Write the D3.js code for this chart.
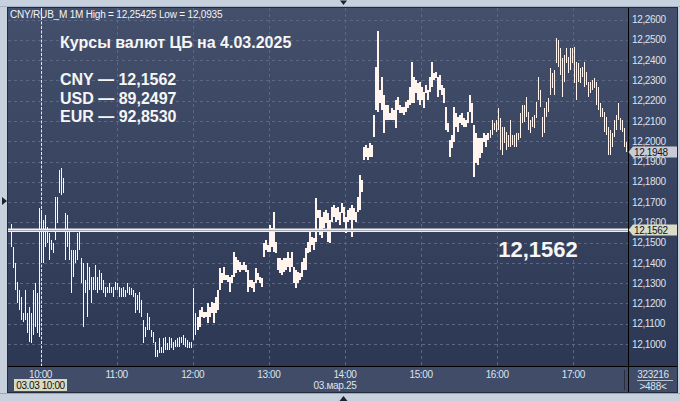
<!DOCTYPE html>
<html><head><meta charset="utf-8">
<script src="https://cdn.jsdelivr.net/npm/d3@7"></script>
<style>html,body{margin:0;padding:0;background:#c7d1de;} svg{display:block}</style>
</head><body>
<svg id="c" width="680" height="401"></svg>
<script>
// ---------- data ----------
const headerText = "CNY/RUB_M 1M High = 12,25425 Low = 12,0935";
const titleLines = ["Курсы валют ЦБ на 4.03.2025", "", "CNY — 12,1562", "USD — 89,2497", "EUR — 92,8530"];
const cbRate = 12.1562;
const lastPrice = 12.1948;
const firstBarTime = "09:37";
const lastBarTime = "17:42";
const hourTicks = ["10:00","11:00","12:00","13:00","14:00","15:00","16:00","17:00"];
const priceTicks = [12.10,12.11,12.12,12.13,12.14,12.15,12.16,12.17,12.18,12.19,12.20,12.21,12.22,12.23,12.24,12.25,12.26];
const dateLabel = "03.мар.25";
const cursorLabel = "03.03 10:00";
const infoTop = "323216";
const infoBottom = ">488<";

const high = [
12.1591,12.1478,12.1399,12.1306,12.1266,12.1232,12.1153,12.1266,12.1153,12.1182,
12.1153,12.1266,12.1301,12.1251,12.1670,12.1661,12.1611,12.1636,12.1577,12.1547,
12.1512,12.1498,12.1725,12.1725,12.1858,12.1868,12.1818,12.1646,12.1636,12.1562,
12.1463,12.1463,12.1463,12.1547,12.1562,12.1424,12.1399,12.1315,12.1399,12.1379,
12.1330,12.1330,12.1389,12.1330,12.1365,12.1350,12.1315,12.1281,12.1281,12.1301,
12.1281,12.1281,12.1306,12.1301,12.1281,12.1276,12.1281,12.1266,12.1301,12.1281,
12.1276,12.1266,12.1251,12.1242,12.1256,12.1217,12.1118,12.1084,12.1153,12.1133,
12.1069,12.1059,12.1010,12.0970,12.1030,12.0985,12.1030,12.1035,12.1005,12.1035,
12.1030,12.1010,12.1020,12.1030,12.1035,12.1035,12.1044,12.1030,12.1020,12.1010,
12.1010,12.1276,12.1153,12.1133,12.1168,12.1182,12.1158,12.1158,12.1202,12.1182,
12.1207,12.1202,12.1232,12.1266,12.1374,12.1350,12.1379,12.1340,12.1340,12.1330,
12.1340,12.1453,12.1429,12.1414,12.1404,12.1389,12.1404,12.1389,12.1365,12.1315,
12.1315,12.1306,12.1374,12.1350,12.1330,12.1325,12.1498,12.1512,12.1488,12.1587,
12.1572,12.1651,12.1503,12.1424,12.1424,12.1414,12.1424,12.1424,12.1453,12.1424,
12.1453,12.1379,12.1365,12.1355,12.1350,12.1404,12.1424,12.1473,12.1503,12.1552,
12.1527,12.1522,12.1720,12.1661,12.1661,12.1626,12.1651,12.1661,12.1646,12.1611,
12.1675,12.1685,12.1670,12.1675,12.1651,12.1695,12.1675,12.1626,12.1661,12.1670,
12.1685,12.1670,12.1651,12.1725,12.1833,12.1808,12.1971,12.1981,12.1966,12.1991,
12.1981,12.2129,12.2366,12.25425,12.2252,12.2316,12.2228,12.2178,12.2178,12.2139,
12.2163,12.2154,12.2203,12.2218,12.2178,12.2168,12.2168,12.2193,12.2203,12.2267,
12.2390,12.2316,12.2302,12.2287,12.2292,12.2267,12.2242,12.2277,12.2252,12.2316,
12.2390,12.2336,12.2341,12.2316,12.2326,12.2277,12.2262,12.2168,12.2089,12.2006,
12.2030,12.2168,12.2139,12.2119,12.2129,12.2139,12.2114,12.2104,12.2144,12.2228,
12.2188,12.2080,12.2040,12.2016,12.2016,12.2016,12.2040,12.2030,12.2040,12.2055,
12.2104,12.2089,12.2104,12.2163,12.2114,12.2070,12.2070,12.2045,12.2030,12.2104,
12.2030,12.2030,12.2040,12.2040,12.2139,12.2178,12.2178,12.2218,12.2144,12.2104,
12.2119,12.2129,12.2193,12.2316,12.2252,12.2119,12.2163,12.2193,12.2213,12.2361,
12.2336,12.2351,12.2509,12.2499,12.2459,12.2410,12.2425,12.2459,12.2415,12.2459,
12.2459,12.2464,12.2390,12.2385,12.2361,12.2366,12.2390,12.2341,12.2292,12.2292,
12.2302,12.2311,12.2292,12.2267,12.2188,12.2163,12.2144,12.2119,12.2070,12.2055,
12.2040,12.2104,12.2129,12.2188,12.2114,12.2104,12.2065,12.1996
];
const low = [
12.1478,12.1374,12.1266,12.1202,12.1168,12.1118,12.1108,12.1118,12.1054,12.1010,
12.1005,12.1044,12.1084,12.1054,12.1035,12.1399,12.1399,12.1478,12.1498,12.1414,
12.1463,12.1448,12.1512,12.1596,12.1744,12.1735,12.1744,12.1414,12.1478,12.1414,
12.1251,12.1330,12.1399,12.1414,12.1463,12.1301,12.1084,12.1251,12.1133,12.1266,
12.1202,12.1266,12.1266,12.1251,12.1266,12.1266,12.1251,12.1232,12.1251,12.1251,
12.1251,12.1232,12.1266,12.1266,12.1232,12.1232,12.1232,12.1232,12.1251,12.1242,
12.1242,12.1232,12.1153,12.1168,12.1153,12.1133,12.1005,12.1035,12.1069,12.1069,
12.1035,12.1005,12.0936,12.0936,12.0956,12.0956,12.0956,12.0970,12.0970,12.0970,
12.0980,12.0970,12.0985,12.0985,12.0985,12.1005,12.0995,12.0985,12.0980,12.0980,
12.0980,12.1020,12.1044,12.1069,12.1084,12.1133,12.1128,12.1133,12.1103,12.1133,
12.1153,12.1103,12.1153,12.1168,12.1266,12.1301,12.1315,12.1315,12.1306,12.1256,
12.1301,12.1330,12.1350,12.1365,12.1355,12.1365,12.1365,12.1355,12.1256,12.1281,
12.1276,12.1256,12.1301,12.1315,12.1301,12.1281,12.1429,12.1463,12.1453,12.1453,
12.1478,12.1453,12.1448,12.1365,12.1350,12.1340,12.1355,12.1365,12.1379,12.1355,
12.1379,12.1301,12.1276,12.1301,12.1315,12.1330,12.1365,12.1365,12.1448,12.1453,
12.1488,12.1463,12.1503,12.1621,12.1537,12.1522,12.1572,12.1596,12.1503,12.1498,
12.1601,12.1626,12.1601,12.1611,12.1587,12.1646,12.1601,12.1547,12.1601,12.1611,
12.1527,12.1611,12.1601,12.1651,12.1661,12.1749,12.1907,12.1922,12.1907,12.1922,
12.1922,12.2020,12.2154,12.2144,12.2188,12.2154,12.2040,12.2104,12.2104,12.2104,
12.2104,12.2104,12.2065,12.2154,12.2139,12.2139,12.2129,12.2144,12.2163,12.2178,
12.2188,12.2188,12.2237,12.2203,12.2178,12.2203,12.2163,12.2237,12.2203,12.2242,
12.2267,12.2302,12.2311,12.2218,12.2252,12.2228,12.2188,12.2055,12.2045,12.1922,
12.1966,12.1996,12.2070,12.2045,12.2089,12.2080,12.2070,12.2070,12.2089,12.2144,
12.2089,12.1823,12.1892,12.1882,12.1917,12.1942,12.1996,12.1971,12.2006,12.2016,
12.2030,12.2055,12.2045,12.2055,12.1957,12.1932,12.1991,12.1957,12.1971,12.1971,
12.1981,12.1971,12.1971,12.2006,12.2016,12.2089,12.2094,12.2119,12.2055,12.2040,
12.2070,12.2065,12.2114,12.2203,12.2168,12.2020,12.2040,12.2119,12.2144,12.2228,
12.2262,12.2228,12.2385,12.2366,12.2326,12.2218,12.2292,12.2385,12.2336,12.2351,
12.2385,12.2287,12.2203,12.2292,12.2287,12.2316,12.2267,12.2277,12.2218,12.2237,
12.2252,12.2262,12.2178,12.2154,12.2119,12.2119,12.2045,12.2030,12.1932,12.1932,
12.1971,12.2020,12.2055,12.2104,12.2055,12.2045,12.1971,12.1948
];

// ---------- layout ----------
const W = 680, H = 401;
const panel = {x0: 8, x1: 677, y0: 8, y1: 392};
const plot = {x0: 8, x1: 628, y0: 8, y1: 366};
const FONT = "'Liberation Sans', Arial, sans-serif";

const parseT = d3.timeParse("%Y-%m-%d %H:%M");
const T = s => parseT("2025-03-03 " + s);

const x = d3.scaleTime().domain([T("10:00"), T("17:00")]).range([40.5, 573.3]);
const y = d3.scaleLinear().domain([12.10, 12.26]).range([344, 19.6]);

const t0 = T(firstBarTime), t1 = T(lastBarTime);
const n = high.length;
const bars = high.map((h, i) => ({
  t: new Date(+t0 + (t1 - t0) * i / (n - 1)),
  h, l: low[i]
}));

const fmtP = v => d3.format(".4f")(v).replace(".", ",");

const svg = d3.select("#c");
const defs = svg.append("defs");
const g = defs.append("linearGradient").attr("id","bg").attr("x1",0).attr("y1",0).attr("x2",0).attr("y2",1);
g.append("stop").attr("offset","0%").attr("stop-color","#434f6b");
g.append("stop").attr("offset","100%").attr("stop-color","#2b3653");
defs.append("clipPath").attr("id","pc").append("rect")
  .attr("x",plot.x0).attr("y",plot.y0).attr("width",plot.x1-plot.x0).attr("height",plot.y1-plot.y0);

// outer frame
svg.append("rect").attr("width",W).attr("height",H).attr("fill","#c7d1de");
svg.append("line").attr("x1",0).attr("x2",W).attr("y1",6.5).attr("y2",6.5).attr("stroke","#a7b2c4");
svg.append("line").attr("x1",0).attr("x2",W).attr("y1",393.5).attr("y2",393.5).attr("stroke","#98a4b8");
svg.append("path").attr("d","M340,0.5L347,0.5L343.5,5Z").attr("fill","#1c2232");
svg.append("path").attr("d","M339.5,401L347.5,401L343.5,396Z").attr("fill","#1c2232");
svg.append("path").attr("d","M2,197L2,205L7,201Z").attr("fill","#1c2232");

// panel
svg.append("rect").attr("x",panel.x0).attr("y",panel.y0)
  .attr("width",panel.x1-panel.x0).attr("height",panel.y1-panel.y0).attr("fill","url(#bg)");
// bottom axis strip
svg.append("rect").attr("x",panel.x0).attr("y",plot.y1).attr("width",panel.x1-panel.x0)
  .attr("height",panel.y1-plot.y1).attr("fill","#414d68");
svg.append("rect").attr("x",panel.x0-0.5).attr("y",panel.y0-0.5)
  .attr("width",panel.x1-panel.x0+1).attr("height",panel.y1-panel.y0+1)
  .attr("fill","none").attr("stroke","#222a3c");

const plotG = svg.append("g").attr("clip-path","url(#pc)");

// grid
plotG.selectAll(".hg").data(priceTicks).join("line")
  .attr("x1",plot.x0).attr("x2",plot.x1)
  .attr("y1",d=>Math.round(y(d))+0.5).attr("y2",d=>Math.round(y(d))+0.5)
  .attr("stroke","#5b6784").attr("stroke-dasharray","3,3");
plotG.selectAll(".vg").data(hourTicks.slice(1)).join("line")
  .attr("x1",d=>Math.round(x(T(d)))+0.5).attr("x2",d=>Math.round(x(T(d)))+0.5)
  .attr("y1",plot.y0).attr("y2",plot.y1)
  .attr("stroke","#5b6784").attr("stroke-dasharray","3,3");

// cursor line at 10:00
plotG.append("line").attr("x1",Math.round(x(T("10:00")))+0.5).attr("x2",Math.round(x(T("10:00")))+0.5)
  .attr("y1",plot.y0).attr("y2",plot.y1)
  .attr("stroke","#e8e8e8").attr("stroke-dasharray","3,1.5");

// bars
plotG.selectAll(".bar").data(bars).join("rect")
  .attr("x",d=>x(d.t)-0.8).attr("width",1.6)
  .attr("y",d=>y(d.h)).attr("height",d=>Math.max(1, y(d.l)-y(d.h)))
  .attr("shape-rendering","crispEdges")
  .attr("fill","#fff4ee");

// CB rate line
const yc = Math.round(y(cbRate));
plotG.append("rect").attr("x",plot.x0).attr("width",plot.x1-plot.x0).attr("y",yc-1.5).attr("height",3.5).attr("fill","#f2f0ee");
plotG.append("line").attr("x1",plot.x0).attr("x2",plot.x1).attr("y1",yc+0.5).attr("y2",yc+0.5).attr("stroke","#a9aab2");

// axis lines
svg.append("line").attr("x1",plot.x1+0.5).attr("x2",plot.x1+0.5).attr("y1",panel.y0).attr("y2",panel.y1).attr("stroke","#000");
svg.append("line").attr("x1",panel.x0).attr("x2",panel.x1).attr("y1",plot.y1+0.5).attr("y2",plot.y1+0.5).attr("stroke","#000");
svg.append("line").attr("x1",624.5).attr("x2",624.5).attr("y1",370).attr("y2",390).attr("stroke","#262e40");

// y labels
svg.selectAll(".yl").data(priceTicks).join("text")
  .attr("x",632).attr("y",d=>y(d)+3.6).text(fmtP)
  .attr("font-family",FONT).attr("font-size",10).attr("letter-spacing",-0.35).attr("fill","#dde3ee");

// x labels
svg.selectAll(".xl").data(hourTicks).join("text")
  .attr("x",d=>x(T(d))).attr("y",378).attr("text-anchor","middle").text(d=>d)
  .attr("font-family",FONT).attr("font-size",10).attr("letter-spacing",-0.4).attr("fill","#dde3ee");
svg.append("text").attr("x",335).attr("y",389).attr("text-anchor","middle").text(dateLabel)
  .attr("font-family",FONT).attr("font-size",10).attr("letter-spacing",-0.3).attr("fill","#dde3ee");

// cursor label
svg.append("rect").attr("x",14).attr("y",379).attr("width",53).attr("height",12).attr("fill","#d9dac4");
svg.append("text").attr("x",40.5).attr("y",389).attr("text-anchor","middle").text(cursorLabel)
  .attr("font-family",FONT).attr("font-size",10).attr("letter-spacing",-0.4).attr("fill","#111");

// info box
svg.append("text").attr("x",653).attr("y",378).attr("text-anchor","middle").text(infoTop)
  .attr("font-family",FONT).attr("font-size",10).attr("letter-spacing",-0.3).attr("fill","#dde3ee");
svg.append("line").attr("x1",637).attr("x2",673).attr("y1",380.5).attr("y2",380.5).attr("stroke","#b8c0d0");
svg.append("text").attr("x",653).attr("y",390).attr("text-anchor","middle").text(infoBottom)
  .attr("font-family",FONT).attr("font-size",10).attr("letter-spacing",-0.3).attr("fill","#dde3ee");

// price markers
function marker(v, fill){
  const yy = Math.round(y(v));
  svg.append("path").attr("d",`M628.5,${yy}L633,${yy-5.5}L677,${yy-5.5}L677,${yy+5.5}L633,${yy+5.5}Z`).attr("fill",fill);
  svg.append("text").attr("x",634).attr("y",yy+3.6).text(fmtP(v))
    .attr("font-family",FONT).attr("font-size",10).attr("letter-spacing",-0.35).attr("fill","#10131a");
}
marker(lastPrice, "#c9ccd6");
marker(cbRate, "#d9dcc6");

// header
svg.append("text").attr("x",10).attr("y",18).text(headerText)
  .attr("font-family",FONT).attr("font-size",10).attr("letter-spacing",-0.2).attr("fill","#f2f4f8");

// title block
const lineY = [48, 0, 85, 104, 122];
titleLines.forEach((s,i)=>{
  if(!s) return;
  svg.append("text").attr("x",60).attr("y",lineY[i]).text(s)
    .attr("font-family",FONT).attr("font-weight","bold").attr("font-size",16).attr("fill","#f6f6f6");
});

// big rate
svg.append("text").attr("x",538).attr("y",257).attr("text-anchor","middle").text(fmtP(cbRate))
  .attr("font-family",FONT).attr("font-weight","bold").attr("font-size",22).attr("fill","#f6f6f6");
</script>
</body></html>
